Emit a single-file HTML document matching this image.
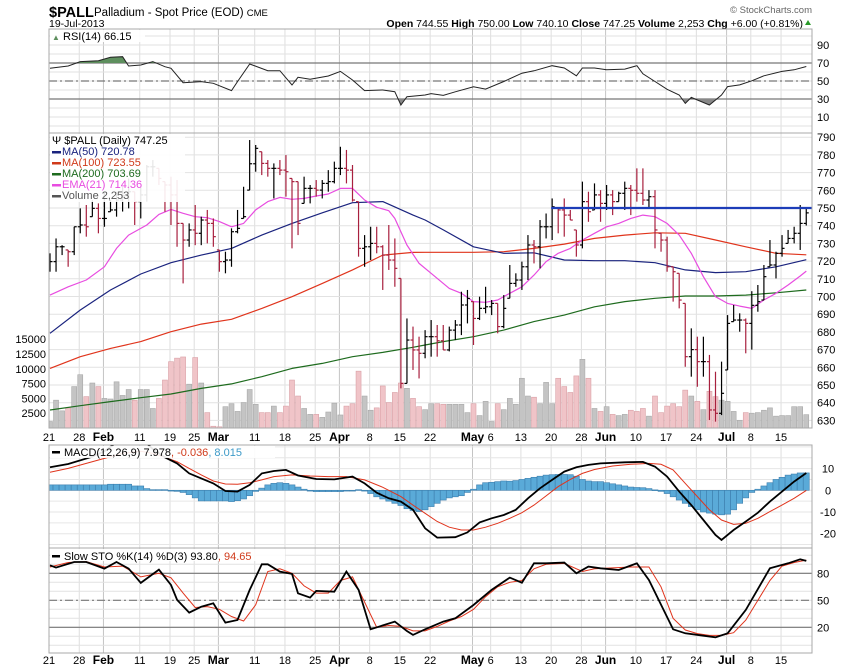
<!DOCTYPE html>
<html><head><meta charset="utf-8"><style>
html,body{margin:0;padding:0;background:#fff;}
svg{display:block;font-family:"Liberation Sans",sans-serif;}
</style></head><body>
<svg id="c" width="850" height="668" viewBox="0 0 850 668" xmlns="http://www.w3.org/2000/svg">
<defs>
<clipPath id="cpR"><rect x="49" y="29" width="763" height="104"/></clipPath>
<clipPath id="cpP"><rect x="49" y="133" width="763" height="295"/></clipPath>
<clipPath id="cpM"><rect x="49" y="445" width="763" height="103"/></clipPath>
<clipPath id="cpS"><rect x="49" y="548" width="763" height="105"/></clipPath>
<clipPath id="cpAbove"><rect x="49" y="29" width="763" height="34"/></clipPath>
<clipPath id="cpBelow"><rect x="49" y="99" width="763" height="34"/></clipPath>
</defs>
<text x="49" y="17" font-size="14.5" font-weight="bold">$PALL</text>
<text x="94" y="16" font-size="11.5">Palladium - Spot Price (EOD) <tspan font-size="9.5">CME</tspan></text>
<text x="49" y="27" font-size="10.5">19-Jul-2013</text>
<text x="812" y="13" font-size="9.5" fill="#666" text-anchor="end">© StockCharts.com</text>
<text x="803" y="27" font-size="10.5" text-anchor="end"><tspan font-weight="bold">Open</tspan> 744.55 <tspan font-weight="bold">High</tspan> 750.00 <tspan font-weight="bold">Low</tspan> 740.10 <tspan font-weight="bold">Close</tspan> 747.25 <tspan font-weight="bold">Volume</tspan> 2,253 <tspan font-weight="bold">Chg</tspan> +6.00 (+0.81%)</text>
<polygon points="805,25 811,25 808,20" fill="#2a9a2a"/>
<g id="grid"></g>
<g id="marks"></g>
<g id="axes"></g>
</svg>
<script>
// ---- data ----
const highs=[724.4,732.8,729,726.3,739.4,749.8,751.7,754.5,752.6,759.2,754.5,759.2,762,766.7,759.2,762,774.3,777.1,772.4,764.9,767.7,765.8,741.3,741.3,751.7,745.1,748.9,744.1,726.3,725.3,738.5,748.9,762,788.4,785.6,781.8,777.1,775.2,777.1,779.9,766.7,764.9,767.7,763,765.8,765.8,771.4,776.2,784.6,782.8,774.3,753.6,734.7,739.4,739.4,729,740.4,732.8,710.2,687.6,683,677.3,681,686.7,683.9,683.9,683,686.7,702.7,703.7,697.1,699.9,705.5,698,696.1,700.8,717.8,713.1,719.7,734.7,731.9,743.2,746.9,755.4,749.8,755.4,748.9,737.6,764.9,759.2,763.9,760.1,763,760.1,759.2,764.9,763,772.4,772.4,760.1,760.1,735.7,733.8,716.8,713.1,696.1,682,677.3,677.3,667,657.5,663.2,689.5,695.2,690.5,687.6,703,706.5,717.8,731.9,725.3,734.7,737.6,739.4,751.7,750];
const lows=[714,714,723.4,716.8,723.4,735.7,733.8,745.1,735.7,739.4,747.9,745.1,748,749.8,740.4,744.1,753.6,767.7,763,747.9,740.4,728.1,707.4,728.1,729,729,730,728.1,714,713.1,716.8,735.7,744.1,760.1,770.5,768.6,767.7,755.4,768.6,756.4,727.2,734.7,752.6,752.6,756.4,755.4,759.2,763.9,768.6,763.9,753.6,722.5,716.8,720.6,724.4,703.7,715,705.5,648.1,650.9,658.5,653.7,665.1,666,666,669.8,669,675.4,678.2,684.8,672.6,686.7,690.5,689.5,679.2,682,699,705.5,703.7,709.3,718.7,715.9,732.8,731.9,735.7,733.8,743.2,722.5,727.2,742.2,748.9,742.2,748.9,746,753.6,748.9,746,753.6,751.7,749.8,727.2,725.3,714,697.1,693.3,660.3,654.7,649,654.7,630.2,629.3,633,658.5,685.8,680.1,667.9,670,691.4,698,716.8,710.2,722.5,730,730,726.3,740.1];
const closes=[719.7,728.1,728.1,725.3,739.4,740.4,739.4,749.8,744.1,744.1,748.9,754.5,757,759.2,753.6,757.4,773.3,773.3,766.7,763,757.4,741.3,731.9,737.6,735.7,743.2,741.3,733.8,719.7,720.6,736.6,738.5,745.1,775,783.7,775.2,772.4,772.4,771.4,770.5,764.9,741.3,761.1,761.1,760.1,763.9,764.9,772.4,772.4,771.4,754.5,727.2,728.1,730,728.1,723.4,720.6,715.9,650.9,675.4,669.8,667.9,677.3,677.3,675,669.8,681,683.9,695.2,698.9,687.6,693.3,694.2,696.1,683,693.3,707.4,709.3,716.8,729.1,728.1,739.4,739.4,750.7,748.9,746,743.2,729.1,753.6,747.9,757.4,752.6,757.4,753.6,758.3,761.1,760,758.3,754.5,756.4,737.6,731.9,716.8,714,698,666,670,663.2,663.2,635.9,634,645.3,684.8,686.7,686.7,684.8,695,697.1,711.2,717.8,724.4,727.2,732.8,735.7,741.3,747.25];
const volumes=[1100,4700,2900,3400,7000,9000,5300,7600,7000,5000,4900,7800,5500,6500,4700,6500,6500,3300,5000,8100,11200,11800,12000,7400,11900,7600,2600,300,200,3600,4100,2800,4300,6500,4000,2600,2600,3700,2600,3700,8100,5400,3300,2300,2300,1800,2700,4200,2200,3700,4100,9600,5400,3000,3400,7100,4300,6000,7600,6700,5000,3600,3100,4100,4100,4000,4000,4000,4000,2600,4100,2100,4500,1100,4100,3100,5000,4000,8400,5400,5200,4100,7700,4100,8400,7000,6000,8800,11600,8400,3300,2800,3600,2300,2100,2300,3000,2800,3300,2000,5400,2600,3700,4100,3600,6400,5400,4500,3100,6200,5300,4700,4500,2800,1300,2600,2500,2600,3000,3400,2000,2100,2100,3600,3600,2253];
// moving averages sampled at these bar indices
const maIdx=[0,5,10,15,20,25,30,35,40,45,50,55,60,62,65,70,75,80,85,90,95,100,105,110,115,120,125];
const ma50=[679.2,692.4,703.7,712.7,719.1,723.4,727.2,734.7,741.3,747.3,753,753.6,746,743.2,737.6,728.1,724.4,724.7,720.6,720.2,720.2,719.1,715,713.5,714,716.8,720.78];
const ma100=[659.4,666,670.7,674.5,680.1,684.4,687.1,693.3,699.9,707.4,715,723.4,724.9,725,725,725,725.3,727.2,729.6,732.8,734.7,736,735.7,731.9,728.1,724.4,723.55];
const ma200=[635.9,638.3,640.6,642.8,644.9,648.1,650.6,654.7,659.4,662.2,666,668.4,671.3,672.6,674.5,677.3,681,685.8,689.5,694.2,697.1,699,700.3,700.3,700.8,702.1,703.69];
const emaIdx=[0,3,6,9,11,13,16,18,20,22,24,26,28,30,32,34,36,38,40,42,44,46,48,50,52,54,56,57,59,61,63,66,68,70,72,74,76,78,80,82,84,86,88,90,92,94,96,98,100,102,104,106,108,110,112,114,116,118,120,122,124,125];
const ema21=[700.8,705.5,709.3,716.8,727.2,734.7,740.4,746.4,749.2,747,745.1,744.5,742.3,739.4,741.3,748.9,753.6,756,754.9,755.4,756.8,757.9,761.1,761.1,754.5,750.4,748.5,744.1,729.1,718.7,713.1,704.6,701.8,697.1,696.7,698,701.8,705.5,712.1,719.7,724.4,727.2,731.9,735.7,739.4,741.3,744.1,746,745.1,741.3,734.7,724.4,711.2,699.9,696.1,694.6,693.3,698,701.8,706.5,711.6,714.36];
const resistanceLevel=750, resistanceStart=83;
// RSI
const rsiIdx=[0,3,5,8,10,12,13,15,17,19,20,22,25,27,30,31,33,36,38,40,41,43,46,48,50,52,55,57,58,59,62,63,65,67,70,72,75,78,80,83,85,87,88,90,92,95,97,98,100,102,104,105,106,107,109,111,112,114,116,118,121,123,125];
const rsiVal=[64.1,66.7,71.5,72.6,76.3,77,66.7,67.8,71.5,65.9,64.1,48.1,49.3,47.4,39.3,49.3,68.9,61.5,61.5,45.6,54.1,51.9,55.6,60.7,51.1,39.3,40,38.1,23.3,32.6,34.4,36,34,38,43.6,41,49.4,58.7,61.3,67,64.4,55.8,64.4,64.4,62.5,63.2,67,58,49.4,40.8,34.5,25.1,31.8,28.9,23.3,34.5,43.8,45.7,50.2,55.8,60.7,62.5,66.15];
// MACD
const macdIdx=[0,3,7,9,12,15,17,19,21,23,25,27,29,31,33,35,37,39,41,44,47,50,52,54,56,58,60,62,64,67,69,71,73,75,77,79,81,83,85,87,89,91,95,98,100,102,104,106,108,110,111,113,115,117,119,121,123,125];
const macdVal=[10.6,12.1,15.5,18,24,24,19,15.2,12.4,7.8,5.5,3.2,-0.3,-0.6,2.5,7.8,8.9,9.4,6.8,5.2,5,6.3,3.2,-1.1,-3.7,-5.2,-9,-17.5,-21.8,-21.6,-19.4,-14.8,-12.9,-11.4,-9,-3.7,0.9,4.8,8.6,10.6,11.7,12.4,12.9,13.1,10.9,6.3,-0.6,-6.8,-13.7,-20.6,-22.9,-18.3,-14.4,-10.3,-5.2,-0.6,4,7.978];
const sigIdx=[0,3,6,9,12,15,17,19,21,23,25,27,29,31,33,35,37,40,43,46,49,52,55,58,60,62,64,66,68,70,72,74,76,78,80,82,84,86,88,90,93,96,99,101,103,105,107,109,111,113,115,117,119,121,123,125];
const sigVal=[8.3,10.1,12.4,14.7,17,18,17,15.2,13.2,10.1,7.1,4.3,2.9,2.8,3.5,4.8,6.3,7.1,6.6,6.3,6.3,4.8,1.4,-2.9,-6.8,-10.6,-14.4,-17,-18.3,-18.3,-17,-15.2,-12.9,-10.3,-6.8,-2.6,1.7,5,7.8,9.6,11.2,12,12.4,12,9.4,3.2,-2.9,-9,-13.7,-15.7,-15.2,-12.9,-9.8,-6.8,-3.7,-0.036];
const histVal=[2.5,2.5,2.5,2.5,2.5,2.5,2.5,2.5,2.5,2.5,2.8,2.8,2.8,2.8,2,2,0.8,0.3,0.3,0.3,-0.3,-0.5,-1,-2,-3.5,-4.9,-4.9,-4.9,-4.9,-4.9,-5.2,-4.8,-4,-2.5,-0.5,1,2.5,3.2,3.5,3.2,2.5,1.5,0.5,-0.3,-0.6,-0.6,-0.6,-0.6,-0.6,-0.3,0,0.3,-0.3,-1.5,-3,-4,-5,-6,-7,-8.5,-9.3,-9.8,-9,-7.5,-6,-4.5,-3.5,-3,-2.5,-1,0.5,2.5,3.5,3.7,4,4.3,4.2,4.5,5,5.5,6,6.5,7,7.2,7.3,7.3,7.2,6.5,5,4.3,4,4,3.5,3,2.5,2,1.5,1.3,1.2,0.8,0.2,-0.5,-1.5,-3,-4.5,-6,-7.5,-9,-10,-10.5,-11,-11.3,-11,-9,-6,-3.5,-1,0.5,2,3.5,5,6,7,7.5,8,8.015];
// Slow stochastics
const kIdx=[0,1,4,6,9,11,13,15,18,20,21,23,25,27,29,31,33,35,36,38,40,41,43,44,47,49,51,53,57,59,60,62,65,67,70,73,76,78,80,82,85,87,89,91,94,97,99,103,105,108,110,112,115,119,122,124,125];
const kVal=[88.9,86.3,92.6,92.6,85.2,92.6,85.2,69.3,84.1,67,50.4,36.3,42.9,46.7,25.2,28.1,61.5,90,90,81.9,79.3,57.8,53,60.4,59.6,81.9,61.5,17.8,26.3,15.9,11.5,17.8,26.3,30,44.8,61.5,75.2,69.6,91.1,91.1,91.9,80,87.4,85.6,83.7,91.1,72.6,17.8,13.3,10.7,8.9,13.3,39.3,85.6,91.1,95.6,93.8];
const dIdx=[0,3,6,9,12,15,18,20,22,24,26,28,30,32,34,36,38,40,42,44,46,48,50,52,54,56,58,60,62,64,66,68,70,72,74,76,78,80,82,85,88,90,93,96,99,101,103,105,107,109,111,113,115,117,119,121,123,125];
const dVal=[87,92,93,87,88,76,80,75,58,42,43,40,32,27,45,82,85,80,66,58,58,72,76,48,20,22,21,16,16,21,27,32,40,54,65,70,72,85,90,91,82,85,86,87,87,65,30,17,13,11,11,14,28,50,72,88,92,94.65];
// axis labels
const dateIdx=[0,5,9,15,20,24,28,34,39,44,48,53,58,63,70,73,78,83,88,92,97,102,107,112,116,121];
const dateLbl=["21","28","Feb","11","19","25","Mar","11","18","25","Apr","8","15","22","May","6","13","20","28","Jun","10","17","24","Jul","8","15"];
const dateMonth=[0,0,1,0,0,0,1,0,0,0,1,0,0,0,1,0,0,0,0,1,0,0,0,1,0,0];
const priceTicks=[630,640,650,660,670,680,690,700,710,720,730,740,750,760,770,780,790];
const volTicks=[2500,5000,7500,10000,12500,15000];
const rsiTicks=[10,30,50,70,90];
const macdTicks=[-20,-10,0,10];
const stoTicks=[20,50,80];

// ---- scales ----
const X=i=>50+i*6.05;
const Yp=p=>208+(750-p)*1.77;
const Yv=v=>428-v*0.00592;
const Yr=r=>63+(70-r)*0.9;
const Ym=m=>490.3-m*2.17;
const Ys=s=>573.3+(80-s)*0.9;
const NS="http://www.w3.org/2000/svg";
const G=document.getElementById('grid'),M=document.getElementById('marks'),A=document.getElementById('axes');
function mk(tag,attrs,parent){const e=document.createElementNS(NS,tag);for(const k in attrs)e.setAttribute(k,attrs[k]);(parent||M).appendChild(e);return e;}
function pts(idx,vals,yf){return idx.map((ix,j)=>X(ix).toFixed(1)+','+yf(vals[j]).toFixed(1)).join(' ');}

const panels=[[29,133],[133,428],[445,548],[548,653]];
dateIdx.forEach((ix,j)=>{
  const x=X(ix)-1;
  panels.forEach(p=>{
    const l=mk('line',{x1:x,x2:x,y1:p[0],y2:p[1],stroke:dateMonth[j]?'#c4c4c4':'#dedede','stroke-width':1},G);
    
    
  });
});
for(let v=0;v<=100;v+=10){if(Yr(v)>29&&Yr(v)<133){const l=mk('line',{x1:49,x2:812,y1:Yr(v),y2:Yr(v),stroke:'#e2e2e2'},G);}}
priceTicks.forEach(v=>{const l=mk('line',{x1:49,x2:812,y1:Yp(v),y2:Yp(v),stroke:'#e2e2e2'},G);});
for(let v=-25;v<=20;v+=5){const l=mk('line',{x1:49,x2:812,y1:Ym(v),y2:Ym(v),stroke:'#e6e6e6'},G);}
for(let v=0;v<=100;v+=10){if(Ys(v)>548&&Ys(v)<653){const l=mk('line',{x1:49,x2:812,y1:Ys(v),y2:Ys(v),stroke:'#e2e2e2'},G);}}
[[Yr(70),0],[Yr(30),0],[Yr(50),1],[Ys(80),0],[Ys(20),0],[Ys(50),1]].forEach(r=>{
  const l=mk('line',{x1:49,x2:812,y1:r[0],y2:r[0],stroke:'#777','stroke-width':1.2,'stroke-dasharray':r[1]?'8,3,2,3':'none'},G);
  
  
});

// ---- volume ----
volumes.forEach((v,i)=>{
  const down=i>0&&closes[i]<closes[i-1];
  const r=mk('rect',{x:X(i)-2.5,y:Yv(v),width:5,height:428-Yv(v),fill:down?'#f0c4c8':'#c4c4c4',stroke:down?'#d9a0a6':'#a8a8a8','stroke-width':0.6,'clip-path':'url(#cpP)'});
  
  
});
// ---- moving averages ----
[[maIdx,ma200,'#1e6b1e','ma200-line'],[maIdx,ma100,'#e0341c','ma100-line'],[maIdx,ma50,'#1a237e','ma50-line'],[emaIdx,ema21,'#e84ce0','ema21-line']].forEach(s=>{
  const l=mk('polyline',{points:pts(s[0],s[1],Yp),fill:'none',stroke:s[2],'stroke-width':1.2,'stroke-linejoin':'round','clip-path':'url(#cpP)'});
  
  
});
// ---- price bars ----
closes.forEach((c,i)=>{
  const down=i>0&&c<closes[i-1];
  const col=down?'#a8203e':'#000';
  const o=i>0?closes[i-1]:c;
  const g=mk('g',{stroke:col,'stroke-width':1.2,'clip-path':'url(#cpP)'});
  
  
  const x=X(i);
  const oy=Yp(Math.min(Math.max(o,lows[i]),highs[i]));
  mk('line',{x1:x,x2:x,y1:Yp(highs[i]),y2:Yp(lows[i])},g);
  mk('line',{x1:x-2.5,x2:x,y1:oy,y2:oy},g);
  mk('line',{x1:x,x2:x+2.5,y1:Yp(c),y2:Yp(c)},g);
});
const rl=mk('line',{x1:X(resistanceStart)-1,x2:812,y1:Yp(resistanceLevel),y2:Yp(resistanceLevel),stroke:'#1d3db8','stroke-width':2.2});



// ---- RSI ----
const rsiPts=pts(rsiIdx,rsiVal,Yr);
const fa=mk('polygon',{points:X(rsiIdx[0])+','+Yr(70)+' '+rsiPts+' '+X(rsiIdx[rsiIdx.length-1])+','+Yr(70),fill:'#5e8f5e','clip-path':'url(#cpAbove)'});


const fb=mk('polygon',{points:X(rsiIdx[0])+','+Yr(30)+' '+rsiPts+' '+X(rsiIdx[rsiIdx.length-1])+','+Yr(30),fill:'#888','clip-path':'url(#cpBelow)'});


const rsl=mk('polyline',{points:rsiPts,fill:'none',stroke:'#222','stroke-width':1,'clip-path':'url(#cpR)'});



// ---- MACD ----
histVal.forEach((h,i)=>{
  const y0=Ym(0),y1=Ym(h);
  const r=mk('rect',{x:X(i)-3,y:Math.min(y0,y1),width:6,height:Math.max(0.8,Math.abs(y1-y0)),fill:'#5aaad8',stroke:'#3d7fae','stroke-width':0.6,'clip-path':'url(#cpM)'});
  
  
});
const sl=mk('polyline',{points:pts(sigIdx,sigVal,Ym),fill:'none',stroke:'#e0341c','stroke-width':1,'clip-path':'url(#cpM)'});


const ml=mk('polyline',{points:pts(macdIdx,macdVal,Ym),fill:'none',stroke:'#000','stroke-width':1.8,'clip-path':'url(#cpM)'});



// ---- STO ----
const dl=mk('polyline',{points:pts(dIdx,dVal,Ys),fill:'none',stroke:'#e0341c','stroke-width':1,'clip-path':'url(#cpS)'});


const kl=mk('polyline',{points:pts(kIdx,kVal,Ys),fill:'none',stroke:'#000','stroke-width':1.8,'clip-path':'url(#cpS)'});



// ---- panel borders ----
panels.forEach(p=>{
  const r=mk('rect',{x:49,y:p[0],width:763,height:p[1]-p[0],fill:'none',stroke:'#a8a8a8','stroke-width':1},A);
  
  
});
function txt(x,y,s,attrs,name){const t=mk('text',Object.assign({x:x,y:y,'font-size':11},attrs||{}),A);t.textContent=s;return t;}
priceTicks.forEach(v=>txt(817,Yp(v)+4,String(v),{},'price-tick-label'));
volTicks.forEach(v=>txt(46,Yv(v)+4,String(v),{'text-anchor':'end'},'volume-tick-label'));
rsiTicks.forEach(v=>txt(817,Yr(v)+4,String(v),{},'rsi-tick-label'));
macdTicks.forEach(v=>txt(828,Ym(v)+4,String(v),{'text-anchor':'middle'},'macd-tick-label'));
stoTicks.forEach(v=>txt(817,Ys(v)+4,String(v),{},'sto-tick-label'));
[441,664].forEach(yy=>{
  dateIdx.forEach((ix,j)=>txt(X(ix)-1,yy,dateLbl[j],{'text-anchor':'middle','font-weight':dateMonth[j]?'bold':'normal','font-size':dateMonth[j]?12:11},'date-axis-label'));
});

function legendBg(x,y,w,h){const r=mk('rect',{x:x,y:y,width:w,height:h,fill:'#fff','fill-opacity':0.9},A);}
legendBg(50,30,95,12);
txt(52,40,'\u25B2',{'font-size':8,fill:'#5e8f5e'},'rsi-legend-icon');
txt(63,40,'RSI(14) 66.15',{},'rsi-legend');
legendBg(50,134,135,68);
txt(52,144,'\u03A8 $PALL (Daily) 747.25',{},'price-legend');
const lg=[['MA(50) 720.78','#1a237e'],['MA(100) 723.55','#d03a1a'],['MA(200) 703.69','#1e6b1e'],['EMA(21) 714.36','#e84ce0'],['Volume 2,253','#555']];
lg.forEach((e,j)=>{
  const y=155+j*11;
  const sw=mk('rect',{x:52,y:y-4,width:9,height:2.5,fill:e[1]},A);
  
  
  txt(62,y,e[0],{fill:e[1]},'legend-entry');
});
legendBg(50,446,225,12);
const m1=mk('rect',{x:52,y:451,width:8,height:2.5,fill:'#000'},A);
const mt=txt(64,456,'MACD(12,26,9) 7.978',{},'macd-legend');
const ts1=mk('tspan',{fill:'#d03a1a'},mt);ts1.textContent=', -0.036';
const ts2=mk('tspan',{fill:'#3d9ac8'},mt);ts2.textContent=', 8.015';
legendBg(50,549,235,12);
const s1=mk('rect',{x:52,y:555,width:8,height:2.5,fill:'#000'},A);
const st=txt(64,560,'Slow STO %K(14) %D(3) 93.80',{},'sto-legend');
const ts3=mk('tspan',{fill:'#d03a1a'},st);ts3.textContent=', 94.65';
</script>
</body></html>
